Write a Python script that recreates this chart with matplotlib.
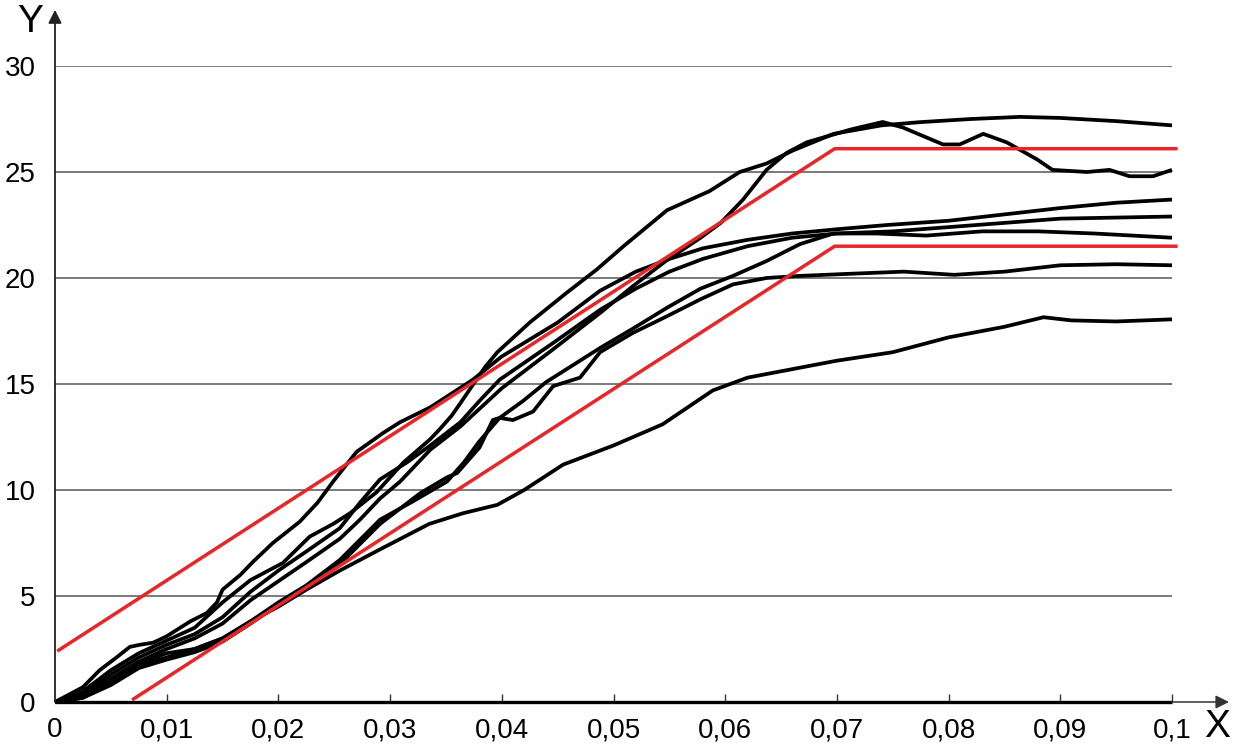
import matplotlib
matplotlib.use("Agg")
import matplotlib.pyplot as plt

plt.rcParams['font.family'] = ['Liberation Sans', 'DejaVu Sans']

# ---------------- data ----------------
x_ticks = [0, 0.01, 0.02, 0.03, 0.04, 0.05, 0.06, 0.07, 0.08, 0.09, 0.1]
x_tick_labels = ["0", "0,01", "0,02", "0,03", "0,04", "0,05", "0,06", "0,07", "0,08", "0,09", "0,1"]
y_ticks = [0, 5, 10, 15, 20, 25, 30]
y_tick_labels = ["0", "5", "10", "15", "20", "25", "30"]

# red envelope lines
red_upper_x = [0.0002, 0.0698, 0.1005]
red_upper_y = [2.4, 26.1, 26.1]
red_lower_x = [0.0069, 0.0698, 0.1005]
red_lower_y = [0.1, 21.5, 21.5]

# black curves
curve_a_x = [0, 0.0025, 0.005, 0.0075, 0.01, 0.0125, 0.015, 0.0175, 0.0204, 0.0228, 0.0249, 0.0264,
             0.0288, 0.0312, 0.0336, 0.0345, 0.0355, 0.0363, 0.0372, 0.0385, 0.0396, 0.0425, 0.0458,
             0.0485, 0.0509, 0.0548, 0.0586, 0.0613, 0.0637, 0.066, 0.0697, 0.074, 0.0774, 0.082,
             0.0864, 0.09, 0.095, 0.1]
curve_a_y = [0, 0.5, 1.5, 2.3, 2.9, 3.5, 4.7, 5.75, 6.56, 7.8, 8.4, 8.9,
             9.9, 11.3, 12.4, 12.9, 13.5, 14.1, 14.8, 15.8, 16.5, 17.9, 19.3,
             20.4, 21.5, 23.2, 24.1, 25.0, 25.4, 26.0, 26.8, 27.2, 27.35, 27.5,
             27.6, 27.55, 27.4, 27.2]

curve_b_x = [0, 0.0025, 0.005, 0.0075, 0.01, 0.0125, 0.015, 0.0175, 0.02, 0.0225, 0.0255, 0.0273,
             0.0291, 0.0309, 0.0336, 0.0363, 0.04, 0.0445, 0.0488, 0.0517, 0.0548, 0.0578, 0.0596,
             0.0616, 0.0637, 0.0655, 0.0673, 0.0712, 0.0741, 0.0759, 0.0795, 0.081, 0.0831, 0.0852,
             0.0879, 0.0893, 0.0924, 0.0944, 0.0962, 0.0983, 0.1]
curve_b_y = [0, 0.3, 1.1, 1.9, 2.5, 3.0, 3.7, 4.8, 5.7, 6.6, 7.7, 8.6,
             9.6, 10.4, 11.9, 13.0, 14.8, 16.6, 18.35, 19.6, 20.85, 21.9, 22.6,
             23.7, 25.1, 25.9, 26.4, 27.0, 27.36, 27.1, 26.3, 26.3, 26.8, 26.4,
             25.6, 25.1, 25.0, 25.1, 24.8, 24.8, 25.1]

curve_c_x = [0, 0.0025, 0.004, 0.0055, 0.0067, 0.0076, 0.0088, 0.01, 0.0121, 0.0136, 0.0145, 0.015,
             0.0166, 0.0177, 0.0195, 0.0219, 0.0235, 0.0249, 0.027, 0.0294, 0.0309, 0.0336, 0.0374,
             0.04, 0.045, 0.0488, 0.052, 0.055, 0.058, 0.062, 0.066, 0.07, 0.0745, 0.08, 0.085,
             0.09, 0.095, 0.1]
curve_c_y = [0, 0.7, 1.5, 2.1, 2.6, 2.7, 2.8, 3.1, 3.8, 4.2, 4.7, 5.3,
             6.0, 6.6, 7.5, 8.5, 9.4, 10.4, 11.8, 12.7, 13.2, 13.9, 15.2,
             16.3, 17.9, 19.4, 20.3, 20.9, 21.4, 21.8, 22.1, 22.3, 22.5, 22.7, 23.0,
             23.3, 23.55, 23.7]

curve_d_x = [0, 0.0025, 0.005, 0.0075, 0.01, 0.0125, 0.015, 0.0175, 0.02, 0.0225, 0.0255, 0.0273,
             0.0291, 0.0315, 0.0336, 0.0363, 0.038, 0.0398, 0.0445, 0.0488, 0.052, 0.055, 0.058,
             0.062, 0.066, 0.07, 0.075, 0.08, 0.085, 0.09, 0.095, 0.1]
curve_d_y = [0, 0.4, 1.3, 2.1, 2.7, 3.2, 4.0, 5.2, 6.2, 7.1, 8.2, 9.4,
             10.5, 11.3, 12.1, 13.2, 14.2, 15.2, 16.9, 18.5, 19.5, 20.3, 20.9,
             21.5, 21.9, 22.1, 22.2, 22.4, 22.6, 22.8, 22.85, 22.9]

curve_e_x = [0, 0.0025, 0.005, 0.0075, 0.01, 0.0125, 0.015, 0.0175, 0.02, 0.0225, 0.0255, 0.0291,
             0.032, 0.0351, 0.0366, 0.038, 0.0398, 0.0419, 0.044, 0.0488, 0.0517, 0.0548, 0.0578,
             0.0607, 0.0637, 0.0667, 0.0697, 0.0735, 0.078, 0.083, 0.088, 0.093, 0.1]
curve_e_y = [0, 0.3, 0.9, 1.7, 2.1, 2.5, 3.0, 3.8, 4.7, 5.5, 6.7, 8.6,
             9.45, 10.4, 11.3, 12.3, 13.4, 14.2, 15.1, 16.7, 17.6, 18.6, 19.5,
             20.1, 20.8, 21.6, 22.1, 22.1, 22.0, 22.2, 22.2, 22.1, 21.9]

curve_f_x = [0, 0.0025, 0.005, 0.0075, 0.01, 0.0125, 0.015, 0.0175, 0.02, 0.0225, 0.0255, 0.0291,
             0.0327, 0.0351, 0.036, 0.038, 0.0392, 0.0398, 0.041, 0.0428, 0.0446, 0.047, 0.0488,
             0.0517, 0.0548, 0.0578, 0.0607, 0.0637, 0.0667, 0.0712, 0.076, 0.0805, 0.085, 0.09,
             0.095, 0.1]
curve_f_y = [0, 0.2, 0.8, 1.6, 2.0, 2.35, 2.85, 3.7, 4.6, 5.4, 6.5, 8.4,
             9.85, 10.6, 10.8, 12.0, 13.3, 13.4, 13.3, 13.7, 14.9, 15.3, 16.5,
             17.4, 18.2, 19.0, 19.7, 20.0, 20.1, 20.2, 20.3, 20.15, 20.3, 20.6,
             20.65, 20.6]

curve_g_x = [0, 0.0025, 0.005, 0.0075, 0.01, 0.0125, 0.015, 0.0175, 0.02, 0.0225, 0.0255, 0.0291,
             0.0335, 0.0365, 0.0396, 0.042, 0.0455, 0.05, 0.0544, 0.0589, 0.062, 0.065, 0.07,
             0.075, 0.08, 0.085, 0.0885, 0.091, 0.095, 0.1]
curve_g_y = [0, 0.2, 0.9, 1.8, 2.3, 2.5, 3.0, 3.8, 4.5, 5.3, 6.2, 7.2,
             8.4, 8.9, 9.3, 10.0, 11.2, 12.1, 13.1, 14.7, 15.3, 15.6, 16.1,
             16.5, 17.2, 17.7, 18.15, 18.0, 17.95, 18.05]

curves = [(curve_a_x, curve_a_y), (curve_b_x, curve_b_y), (curve_c_x, curve_c_y),
          (curve_d_x, curve_d_y), (curve_e_x, curve_e_y), (curve_f_x, curve_f_y),
          (curve_g_x, curve_g_y)]

# ---------------- figure ----------------
W, H = 1234, 747
fig = plt.figure(figsize=(W / 100, H / 100), dpi=100)
left_px, right_px, top_px, bottom_px = 55, 1172, 66, 702
ax = fig.add_axes([left_px / W, (H - bottom_px) / H,
                   (right_px - left_px) / W, (bottom_px - top_px) / H])
ax.set_xlim(0, 0.1)
ax.set_ylim(0, 30)
for s in ax.spines.values():
    s.set_visible(False)

# grid lines
for yv in y_ticks[1:]:
    ax.plot([0, 0.1], [yv, yv], color='#707070', lw=1.3, zorder=1, solid_capstyle='butt')

# curves
for cx, cy in curves:
    ax.plot(cx, cy, color='black', lw=2.7, zorder=3, solid_joinstyle='round',
            solid_capstyle='butt', clip_on=False)

# red lines
ax.plot(red_upper_x, red_upper_y, color='#e8262a', lw=2.5, zorder=4, clip_on=False,
        solid_capstyle='butt')
ax.plot(red_lower_x, red_lower_y, color='#e8262a', lw=2.5, zorder=4, clip_on=False,
        solid_capstyle='butt')

# axes lines with arrows
ax.plot([0, 0.1], [0, 0], color='black', lw=2.4, zorder=5, clip_on=False, solid_capstyle='butt')
ax.annotate('', xy=(0.1051, 0), xytext=(0.1, 0), annotation_clip=False,
            arrowprops=dict(arrowstyle='-|>', color='#333333', lw=1.1,
                            mutation_scale=20, shrinkA=0, shrinkB=0), zorder=5)
ax.annotate('', xy=(0, 32.65), xytext=(0, 0), annotation_clip=False,
            arrowprops=dict(arrowstyle='-|>', color='#222222', lw=1.3,
                            mutation_scale=20, shrinkA=0, shrinkB=0), zorder=5)

# ticks
ax.set_xticks(x_ticks)
ax.set_xticklabels(x_tick_labels, fontsize=20)
ax.set_yticks(y_ticks)
ax.set_yticklabels(y_tick_labels, fontsize=20)
ax.tick_params(axis='x', direction='in', length=6, width=1.0, pad=11, color='#333333')
ax.tick_params(axis='y', length=0, pad=14)
ax.xaxis.get_major_ticks()[0].tick1line.set_visible(False)

fig.text(30 / W, 1 - 22 / H, 'Y', fontsize=28, ha='center', va='center')
fig.text(1217 / W, 1 - 727 / H, 'X', fontsize=28, ha='center', va='center')

fig.savefig('out.png', dpi=100)
